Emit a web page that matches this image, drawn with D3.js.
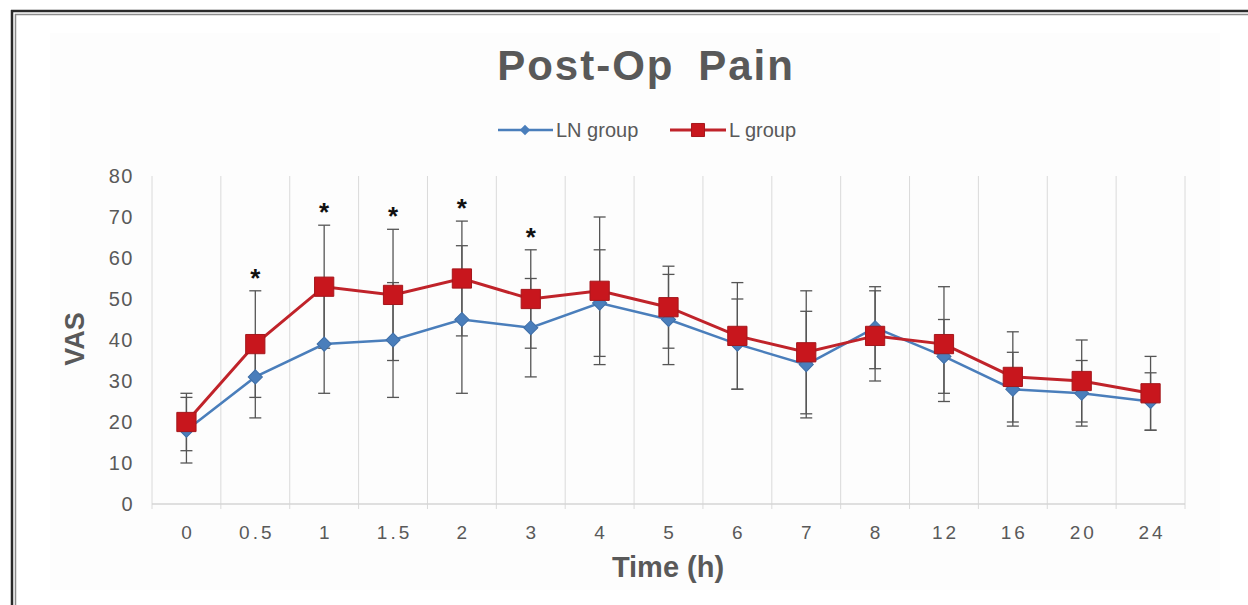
<!DOCTYPE html>
<html>
<head>
<meta charset="utf-8">
<script src="https://cdn.jsdelivr.net/npm/d3@7"></script>
<style>
  body { margin: 0; background: #fff; }
  svg { display: block; font-family: Arial, "Liberation Sans", sans-serif; }
</style>
</head>
<body>
<svg id="chart" width="1248" height="605"></svg>
<script>
// data
var times = ["0", "0.5", "1", "1.5", "2", "3", "4", "5", "6", "7", "8", "12", "16", "20", "24"];
var lnMean = [18, 31, 39, 40, 45, 43, 49, 45, 39, 34, 43, 36, 28, 27, 25];
var lnSD = [8, 10, 12, 14, 18, 12, 13, 11, 11, 13, 10, 9, 9, 8, 7];
var lMean = [20, 39, 53, 51, 55, 50, 52, 48, 41, 37, 41, 39, 31, 30, 27];
var lSD = [7, 13, 15, 16, 14, 12, 18, 10, 13, 15, 11, 14, 11, 10, 9];
var sigTimes = ["0.5", "1", "1.5", "2", "3"];
var yTicks = [0, 10, 20, 30, 40, 50, 60, 70, 80];

var grey = "#595959";
var blue = "#4a7ebb";
var red = "#c0232a";

var svg = d3.select("#chart");

// page frame (double line on top/left)
svg.append("rect").attr("x", 0).attr("y", 0).attr("width", 1248).attr("height", 605).attr("fill", "#fff");
svg.append("line").attr("x1", 11).attr("x2", 1248).attr("y1", 11).attr("y2", 11).attr("stroke", "#2a2a2a").attr("stroke-width", 2.5);
svg.append("line").attr("x1", 15).attr("x2", 1248).attr("y1", 14.5).attr("y2", 14.5).attr("stroke", "#8c8c8c").attr("stroke-width", 1.5);
svg.append("line").attr("x1", 12).attr("x2", 12).attr("y1", 10).attr("y2", 605).attr("stroke", "#2a2a2a").attr("stroke-width", 2.5);
svg.append("line").attr("x1", 15.5).attr("x2", 15.5).attr("y1", 14).attr("y2", 605).attr("stroke", "#8c8c8c").attr("stroke-width", 1.5);

// chart area
svg.append("rect").attr("x", 50).attr("y", 33).attr("width", 1170).attr("height", 557).attr("fill", "#fdfdfd");

var x = d3.scaleBand().domain(times).range([152, 1185]).padding(0);
var y = d3.scaleLinear().domain([0, 80]).range([504, 176]);
var cx = function(t) { return x(t) + x.bandwidth() / 2; };

// vertical gridlines at category boundaries
var bounds = times.map(function(t) { return x(t); }).concat([x.range()[1]]);
svg.append("g").selectAll("line").data(bounds).join("line")
  .attr("x1", function(d) { return d; }).attr("x2", function(d) { return d; })
  .attr("y1", y(80)).attr("y2", y(0) + 5)
  .attr("stroke", "#dadada").attr("stroke-width", 1);

// x axis line
svg.append("line").attr("x1", 152).attr("x2", 1185).attr("y1", y(0)).attr("y2", y(0))
  .attr("stroke", "#d4d4d4").attr("stroke-width", 1.5);

// x tick labels
svg.append("g").selectAll("text").data(times).join("text")
  .attr("x", function(d) { return cx(d) + 1.5; })
  .attr("y", 539)
  .attr("text-anchor", "middle")
  .style("font-size", "19px").style("letter-spacing", "3px")
  .attr("fill", grey)
  .text(function(d) { return d; });

// y tick labels
svg.append("g").selectAll("text").data(yTicks).join("text")
  .attr("x", 134)
  .attr("y", function(d) { return y(d) + 7; })
  .attr("text-anchor", "end")
  .style("font-size", "20px").style("letter-spacing", "1.5px")
  .attr("fill", grey)
  .text(function(d) { return d; });

// axis titles
svg.append("text")
  .attr("transform", "translate(84,339) rotate(-90)")
  .attr("text-anchor", "middle")
  .style("font-size", "27px").style("font-weight", "bold")
  .attr("fill", grey)
  .text("VAS");

svg.append("text")
  .attr("x", 668).attr("y", 577)
  .attr("text-anchor", "middle")
  .style("font-size", "29px").style("font-weight", "bold")
  .attr("fill", grey)
  .text("Time (h)");

// title
svg.append("text")
  .attr("x", 646).attr("y", 80)
  .attr("text-anchor", "middle")
  .style("font-size", "42px").style("font-weight", "bold")
  .style("letter-spacing", "2px").style("word-spacing", "10px")
  .attr("fill", grey)
  .text("Post-Op Pain");

// series
var lnData = times.map(function(t, i) { return { t: t, m: lnMean[i], sd: lnSD[i] }; });
var lData = times.map(function(t, i) { return { t: t, m: lMean[i], sd: lSD[i] }; });

function errorBars(data) {
  var g = svg.append("g").attr("stroke", "#555").attr("stroke-width", 1.3).attr("fill", "none");
  data.forEach(function(d) {
    var px = cx(d.t);
    g.append("line").attr("x1", px).attr("x2", px).attr("y1", y(d.m - d.sd)).attr("y2", y(d.m + d.sd));
    [d.m - d.sd, d.m + d.sd].forEach(function(v) {
      g.append("line").attr("x1", px - 6).attr("x2", px + 6).attr("y1", y(v)).attr("y2", y(v));
    });
  });
}
errorBars(lnData);
errorBars(lData);

var line = d3.line().x(function(d) { return cx(d.t); }).y(function(d) { return y(d.m); });

svg.append("path").datum(lnData).attr("d", line)
  .attr("fill", "none").attr("stroke", blue).attr("stroke-width", 2.5);
svg.append("g").selectAll("path").data(lnData).join("path")
  .attr("d", d3.symbol().type(d3.symbolSquare).size(100))
  .attr("transform", function(d) { return "translate(" + cx(d.t) + "," + y(d.m) + ") rotate(45)"; })
  .attr("fill", blue).attr("stroke", "#3f6fa8").attr("stroke-width", 1);

svg.append("path").datum(lData).attr("d", line)
  .attr("fill", "none").attr("stroke", red).attr("stroke-width", 3);
svg.append("g").selectAll("path").data(lData).join("path")
  .attr("d", d3.symbol().type(d3.symbolSquare).size(370))
  .attr("transform", function(d) { return "translate(" + cx(d.t) + "," + y(d.m) + ")"; })
  .attr("fill", "#c8161d").attr("stroke", "#a5171c").attr("stroke-width", 1);

// significance stars above the L group error bar
svg.append("g").selectAll("text").data(lData.filter(function(d) { return sigTimes.indexOf(d.t) >= 0; })).join("text")
  .attr("x", function(d) { return cx(d.t); })
  .attr("y", function(d) { return y(d.m + d.sd) - 4; })
  .attr("text-anchor", "middle")
  .style("font-size", "26px").style("font-weight", "bold")
  .attr("fill", "#111")
  .text("*");

// legend
var legend = svg.append("g");
legend.append("line").attr("x1", 498).attr("x2", 553).attr("y1", 130).attr("y2", 130).attr("stroke", blue).attr("stroke-width", 2.5);
legend.append("path").attr("d", d3.symbol().type(d3.symbolSquare).size(55)())
  .attr("transform", "translate(525,130) rotate(45)").attr("fill", blue);
legend.append("text").attr("x", 556).attr("y", 137).style("font-size", "20px").attr("fill", grey).text("LN group");
legend.append("line").attr("x1", 670).attr("x2", 726).attr("y1", 130).attr("y2", 130).attr("stroke", red).attr("stroke-width", 3);
legend.append("path").attr("d", d3.symbol().type(d3.symbolSquare).size(170)())
  .attr("transform", "translate(698,130)").attr("fill", "#c8161d").attr("stroke", "#a5171c");
legend.append("text").attr("x", 729).attr("y", 137).style("font-size", "20px").attr("fill", grey).text("L group");
</script>
</body>
</html>
